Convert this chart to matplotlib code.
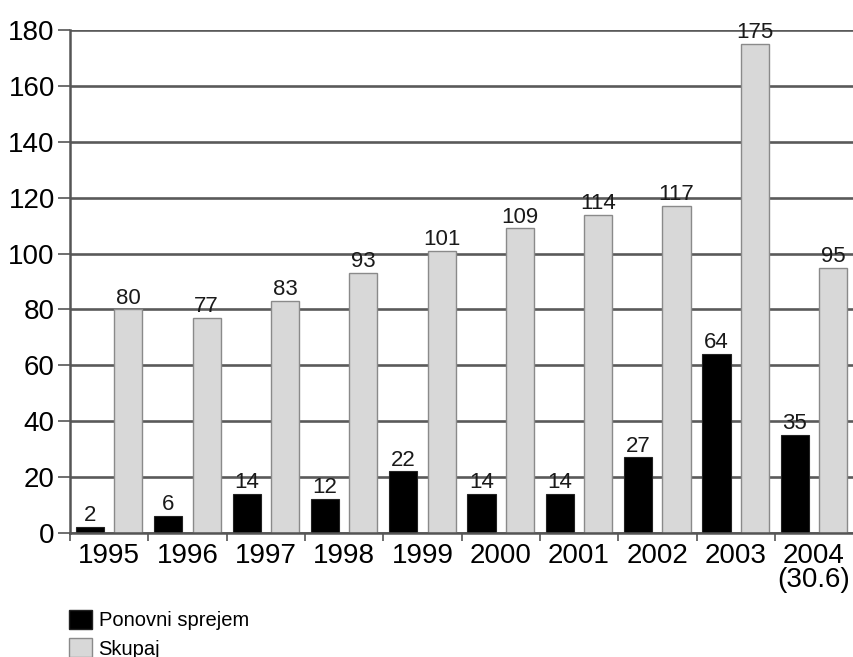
import numpy as np
import matplotlib.pyplot as plt
from matplotlib.patches import Patch

plt.rcParams['font.family'] = ['Liberation Sans', 'DejaVu Sans']

# Data
years = ['1995', '1996', '1997', '1998', '1999', '2000', '2001', '2002', '2003', '2004\n(30.6)']
ponovni = [2, 6, 14, 12, 22, 14, 14, 27, 64, 35]
skupaj = [80, 77, 83, 93, 101, 109, 114, 117, 175, 95]

x = np.arange(len(years))
w = 0.36
off = 0.245

fig = plt.figure(figsize=(8.54, 6.57), dpi=100)
ax = fig.add_axes([0.082, 0.189, 0.917, 0.765])

# Gridlines behind bars
ax.set_axisbelow(True)
ax.yaxis.grid(True, color='#5a5a5a', lw=1.9)

b1 = ax.bar(x - off, ponovni, w, color='black', edgecolor='#222222', lw=0.8)
b2 = ax.bar(x + off, skupaj, w, color='#d8d8d8', edgecolor='#8a8a8a', lw=1.0)

for rect, v in zip(b1, ponovni):
    ax.text(rect.get_x() + rect.get_width() / 2, v + 0.3, str(v),
            ha='center', va='bottom', fontsize=16, color='#1a1a1a')
for rect, v in zip(b2, skupaj):
    ax.text(rect.get_x() + rect.get_width() / 2, v + 0.3, str(v),
            ha='center', va='bottom', fontsize=16, color='#1a1a1a')

ax.set_xlim(-0.5, 9.5)
ax.set_ylim(0, 180)
ax.set_yticks(range(0, 181, 20))
ax.tick_params(axis='y', labelsize=20, length=9, width=1.2, color='#555555', pad=2)

ax.set_xticks(x)
ax.set_xticklabels(years, fontsize=20, linespacing=0.9)
ax.set_xticks(np.arange(-0.5, 9.5, 1), minor=True)
ax.tick_params(axis='x', which='major', length=0, pad=7)
ax.tick_params(axis='x', which='minor', length=6, width=1.2, color='#555555')

for s in ['top', 'right']:
    ax.spines[s].set_visible(False)
ax.spines['left'].set_color('#555555')
ax.spines['left'].set_linewidth(1.8)
ax.spines['bottom'].set_color('#555555')
ax.spines['bottom'].set_linewidth(1.8)

handles = [Patch(facecolor='black', edgecolor='#222222', label='Ponovni sprejem'),
           Patch(facecolor='#d8d8d8', edgecolor='#8a8a8a', label='Skupaj')]
fig.legend(handles=handles, loc='lower left', bbox_to_anchor=(0.06, -0.03),
           frameon=False, fontsize=14.5, handlelength=1.1, handleheight=1.1,
           handletextpad=0.35, labelspacing=0.38)

fig.savefig('out.png', dpi=100)
